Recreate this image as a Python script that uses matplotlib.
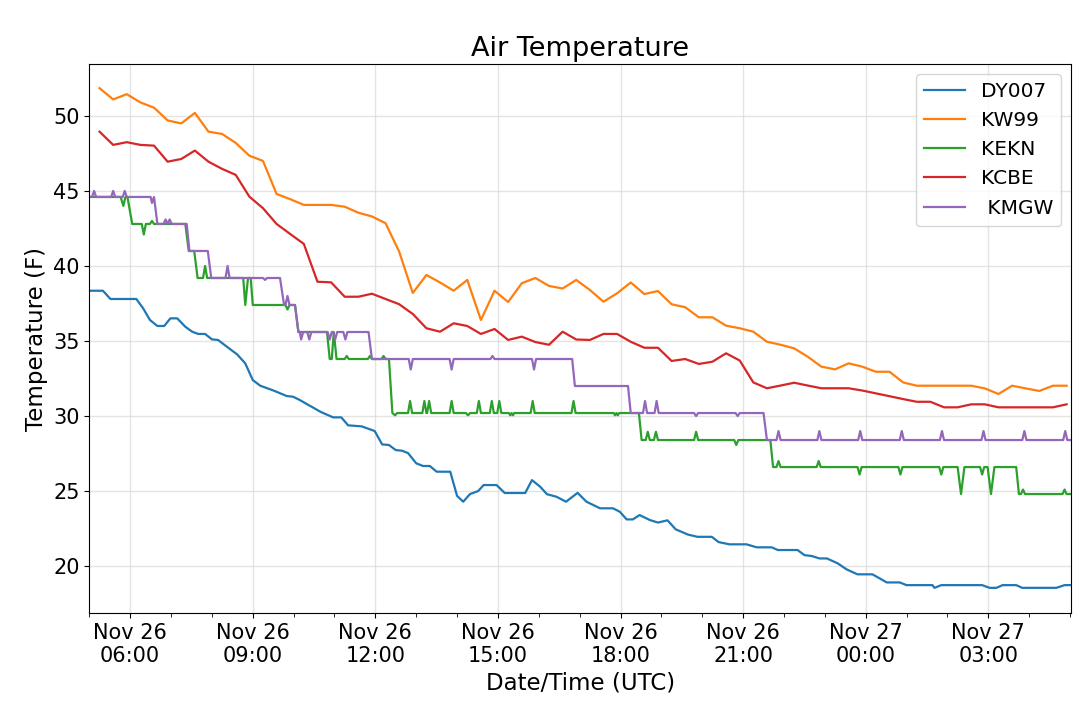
import numpy as np
import pandas as pd
import matplotlib
matplotlib.use("Agg")
import matplotlib.pyplot as plt
import matplotlib.dates as mdates

# minutes after 2019-11-26 00:00 UTC
t0 = pd.Timestamp("2019-11-26 00:00")

dy007_min = [300, 320, 331, 369, 379, 389, 400, 410, 419, 429, 441, 451, 460, 470, 480, 489,
             502, 517, 529, 540, 551, 571, 590, 599, 609, 620, 628, 639, 658, 670, 680, 700,
             719, 730, 740, 750, 759, 768, 780, 790, 800, 810, 830, 840, 849, 859, 871, 879,
             898, 910, 940, 950, 962, 972, 986, 1000, 1017, 1030, 1050, 1069, 1079, 1089, 1098,
             1108, 1123, 1135, 1149, 1161, 1179, 1193, 1214, 1224, 1240, 1265, 1280, 1302, 1311,
             1340, 1350, 1361, 1372, 1383, 1399, 1412, 1428, 1450, 1471, 1490, 1500, 1538, 1541,
             1551, 1611, 1622, 1632, 1641, 1661, 1670, 1720, 1732, 1742]
dy007_f = [38.35, 38.35, 37.8, 37.8, 37.18, 36.4, 36.0, 36.0, 36.51, 36.51, 35.95, 35.62, 35.47,
           35.47, 35.11, 35.07, 34.62, 34.11, 33.51, 32.4, 32.02, 31.69, 31.33, 31.29, 31.07,
           30.78, 30.58, 30.29, 29.91, 29.91, 29.38, 29.31, 29.0, 28.11, 28.07, 27.73, 27.69,
           27.53, 26.85, 26.67, 26.67, 26.29, 26.29, 24.68, 24.29, 24.8, 25.0, 25.4, 25.4, 24.87,
           24.87, 25.73, 25.29, 24.79, 24.62, 24.29, 24.88, 24.29, 23.85, 23.85, 23.62, 23.11,
           23.11, 23.4, 23.07, 22.9, 23.05, 22.45, 22.1, 21.95, 21.95, 21.6, 21.45, 21.45, 21.25,
           21.25, 21.07, 21.07, 20.73, 20.67, 20.51, 20.51, 20.18, 19.78, 19.45, 19.45, 18.91,
           18.91, 18.73, 18.73, 18.55, 18.73, 18.73, 18.55, 18.55, 18.73, 18.73, 18.55, 18.55,
           18.73, 18.73]

# KW99 and KCBE report every 20 minutes from 05:15
obs20_min = list(range(315, 1736, 20))
kw99_f = [51.85, 51.1, 51.45, 50.9, 50.55, 49.7, 49.5, 50.2, 48.95, 48.8, 48.2, 47.35, 47.0,
          44.8, 44.45, 44.07, 44.07, 44.07, 43.95, 43.55, 43.3, 42.85, 40.95, 38.2, 39.4, 38.9,
          38.35, 39.07, 36.4, 38.35, 37.6, 38.85, 39.2, 38.67, 38.5, 39.07, 38.4, 37.62, 38.18,
          38.9, 38.13, 38.33, 37.45, 37.25, 36.58, 36.58, 36.02, 35.85, 35.62, 34.95, 34.75,
          34.51, 33.95, 33.29, 33.11, 33.51, 33.29, 32.95, 32.95, 32.24, 32.02, 32.02, 32.02,
          32.02, 32.02, 31.84, 31.47, 32.02, 31.84, 31.67, 32.02, 32.02]
kcbe_f = [48.95, 48.07, 48.25, 48.07, 48.02, 46.95, 47.13, 47.69, 46.95, 46.47, 46.07, 44.62,
          43.85, 42.8, 42.13, 41.47, 38.95, 38.91, 37.95, 37.95, 38.15, 37.8, 37.45, 36.8, 35.85,
          35.62, 36.18, 36.0, 35.47, 35.8, 35.07, 35.29, 34.93, 34.75, 35.62, 35.1, 35.07, 35.47,
          35.47, 34.95, 34.55, 34.55, 33.67, 33.8, 33.47, 33.62, 34.18, 33.7, 32.24, 31.85, 32.03,
          32.22, 32.03, 31.85, 31.85, 31.85, 31.7, 31.51, 31.32, 31.13, 30.95, 30.95, 30.58,
          30.58, 30.78, 30.78, 30.58, 30.58, 30.58, 30.58, 30.58, 30.78]

kekn = [(300, 44.6), (346, 44.6), (350, 44.0), (353, 44.6), (356, 44.6), (363, 42.8),
        (377, 42.8), (380, 42.1), (383, 42.8), (389, 42.8), (392, 43.0), (395, 42.8),
        (441, 42.8), (446, 41.0), (454, 41.0), (459, 39.2), (467, 39.2), (470, 40.0), (473, 39.2),
        (526, 39.2), (529, 37.4), (533, 39.2), (537, 39.2), (540, 37.4),
        (588, 37.4), (591, 37.1), (594, 37.4), (602, 37.4), (607, 35.6),
        (649, 35.6), (653, 33.8), (656, 33.8), (659, 35.6), (663, 33.8),
        (675, 33.8), (678, 34.0), (681, 33.8), (709, 33.8), (712, 34.0), (715, 33.8),
        (729, 33.8), (732, 34.0), (735, 33.8), (740, 33.8), (745, 30.2), (749, 30.05), (752, 30.2),
        (768, 30.2), (771, 31.0), (774, 30.2),
        (789, 30.2), (792, 31.0), (795, 30.2), (796, 30.2), (799, 31.0), (802, 30.2),
        (829, 30.2), (832, 31.0), (835, 30.2), (853, 30.2), (856, 30.05), (859, 30.2),
        (869, 30.2), (872, 31.0), (875, 30.2),
        (888, 30.2), (891, 31.0), (894, 30.2), (899, 30.2), (902, 31.0), (905, 30.2),
        (916, 30.2), (918, 30.05), (920, 30.2), (922, 30.05), (924, 30.2),
        (948, 30.2), (951, 31.0), (954, 30.2), (1008, 30.2), (1011, 31.0), (1014, 30.2),
        (1070, 30.2), (1072, 30.05), (1074, 30.2), (1076, 30.05), (1078, 30.2),
        (1107, 30.2), (1111, 28.4),
        (1117, 28.4), (1120, 28.95), (1123, 28.4), (1129, 28.4), (1132, 28.95), (1135, 28.4),
        (1188, 28.4), (1191, 28.95), (1194, 28.4), (1247, 28.4), (1250, 28.07), (1253, 28.4),
        (1300, 28.4), (1304, 26.6),
        (1309, 26.6), (1312, 27.0), (1315, 26.6), (1368, 26.6), (1371, 27.0), (1374, 26.6),
        (1428, 26.6), (1431, 26.1), (1434, 26.6), (1488, 26.6), (1491, 26.1), (1494, 26.6),
        (1548, 26.6), (1551, 26.1), (1554, 26.6), (1575, 26.6), (1580, 24.8), (1585, 26.6),
        (1608, 26.6), (1611, 26.1), (1614, 26.6), (1619, 26.6), (1624, 24.8), (1629, 26.6),
        (1661, 26.6), (1665, 24.8), (1668, 24.8), (1671, 25.1), (1674, 24.8),
        (1729, 24.8), (1732, 25.1), (1735, 24.8), (1741, 24.8)]

kmgw = [(300, 44.6), (304, 44.6), (307, 45.0), (310, 44.6), (332, 44.6), (335, 45.0), (338, 44.6),
        (349, 44.6), (352, 45.0), (355, 44.6), (390, 44.6), (392, 44.2), (395, 44.6), (400, 42.8),
        (409, 42.8), (412, 43.1), (415, 42.8), (418, 43.1), (421, 42.8),
        (443, 42.8), (447, 41.0), (474, 41.0), (479, 39.2),
        (500, 39.2), (503, 40.0), (506, 39.2), (555, 39.2), (558, 39.07), (561, 39.2),
        (580, 39.2), (586, 37.4), (588, 37.4), (591, 38.0), (594, 37.4), (602, 37.4), (607, 35.6),
        (609, 35.6), (611, 35.1), (614, 35.6), (620, 35.6), (623, 35.1), (626, 35.6),
        (650, 35.6), (653, 35.1), (656, 35.6), (658, 35.6), (661, 35.1), (664, 35.6),
        (673, 35.6), (676, 35.1), (679, 35.6), (710, 35.6), (715, 33.8),
        (769, 33.8), (772, 33.1), (775, 33.8), (829, 33.8), (832, 33.1), (835, 33.8),
        (889, 33.8), (892, 34.0), (895, 33.8), (950, 33.8), (953, 33.1), (956, 33.8),
        (1009, 33.8), (1013, 32.0), (1091, 32.0), (1095, 30.2),
        (1113, 30.2), (1116, 31.0), (1119, 30.2), (1130, 30.2), (1133, 31.0), (1136, 30.2),
        (1188, 30.2), (1191, 30.0), (1194, 30.2), (1249, 30.2), (1252, 30.0), (1255, 30.2),
        (1290, 30.2), (1295, 28.4),
        (1309, 28.4), (1312, 29.0), (1315, 28.4), (1369, 28.4), (1372, 29.0), (1375, 28.4),
        (1429, 28.4), (1432, 29.0), (1435, 28.4), (1490, 28.4), (1493, 29.0), (1496, 28.4),
        (1549, 28.4), (1552, 29.0), (1555, 28.4), (1610, 28.4), (1613, 29.0), (1616, 28.4),
        (1670, 28.4), (1673, 29.0), (1676, 28.4), (1730, 28.4), (1733, 29.0), (1736, 28.4),
        (1741, 28.4)]


def to_time(minutes):
    return t0 + pd.to_timedelta(np.asarray(minutes), unit="m")


fig = plt.figure(figsize=(10.8, 7.05), dpi=100)
ax = fig.add_axes([0.0827, 0.130, 0.9093, 0.779])

ax.plot(to_time(dy007_min), dy007_f, label="DY007", lw=1.6)
ax.plot(to_time(obs20_min), kw99_f, label="KW99", lw=1.6)
m, v = zip(*kekn)
ax.plot(to_time(m), v, label="KEKN", lw=1.6)
ax.plot(to_time(obs20_min), kcbe_f, label="KCBE", lw=1.6)
m, v = zip(*kmgw)
ax.plot(to_time(m), v, label=" KMGW", lw=1.6)

ax.set_xlim(to_time(300)[()] if False else t0 + pd.Timedelta(minutes=300),
            t0 + pd.Timedelta(minutes=1742))
ax.set_ylim(16.85, 53.45)
ax.set_yticks([20, 25, 30, 35, 40, 45, 50])

ax.xaxis.set_major_locator(mdates.HourLocator(byhour=[0, 3, 6, 9, 12, 15, 18, 21]))
ax.xaxis.set_minor_locator(mdates.HourLocator())
ax.xaxis.set_major_formatter(mdates.DateFormatter("%b %d\n%H:%M"))

ax.grid(True, which="major", color="#d9d9d9", alpha=0.7, lw=1)
ax.tick_params(axis="both", which="major", labelsize=15)
ax.tick_params(axis="x", which="minor", length=3)

ax.set_title("Air Temperature", fontsize=19.5)
ax.set_xlabel("Date/Time (UTC)", fontsize=16.5)
ax.set_ylabel("Temperature (F)", fontsize=16.5)
ax.legend(loc="upper right", fontsize=14.5)

fig.savefig("out.png", dpi=100)
